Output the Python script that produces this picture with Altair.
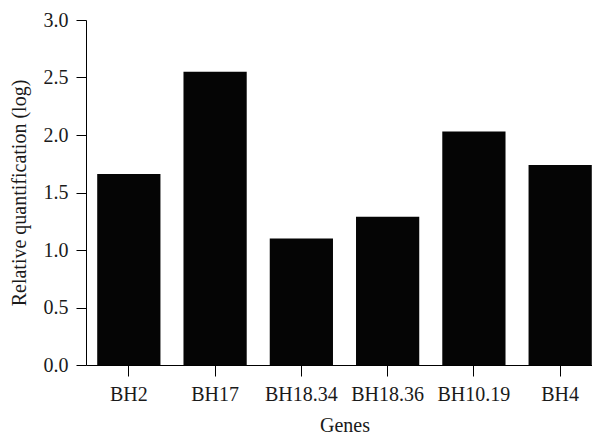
import altair as alt
import pandas as pd

genes = ["BH2", "BH17", "BH18.34", "BH18.36", "BH10.19", "BH4"]
values = [1.66, 2.55, 1.10, 1.29, 2.03, 1.74]

df = pd.DataFrame({"gene": genes, "value": values})

FONT = "Liberation Serif"
FS = 20
TXT = "#1a1a1a"

chart = alt.Chart(df).mark_bar(color="#050505").encode(
    x=alt.X("gene:N", sort=genes, title="Genes",
            scale=alt.Scale(paddingInner=0.267, paddingOuter=0.13, range=[0, 517]),
            axis=alt.Axis(labelAngle=0, tickSize=11, labelPadding=8, titlePadding=11,
                          domainColor="black", tickColor="black", labelColor=TXT,
                          titleColor=TXT, labelFontSize=FS, titleFontSize=FS,
                          labelFont=FONT, titleFont=FONT, titleFontWeight="normal")),
    y=alt.Y("value:Q", title="Relative quantification (log)",
            scale=alt.Scale(domain=[0, 3.0], nice=False),
            axis=alt.Axis(values=[0, 0.5, 1.0, 1.5, 2.0, 2.5, 3.0], format=".1f",
                          tickSize=10, labelPadding=8, titlePadding=14, grid=False,
                          domainColor="black", tickColor="black", labelColor=TXT,
                          titleColor=TXT, labelFontSize=FS, titleFontSize=FS,
                          labelFont=FONT, titleFont=FONT, titleFontWeight="normal")),
).properties(width=506, height=345,
             autosize=alt.AutoSizeParams(type="none"),
             padding={"left": 78, "top": 12, "right": 0, "bottom": 69}
).configure_view(stroke=None)

chart.save("out.html", embed_options={"renderer": "svg", "actions": False})
